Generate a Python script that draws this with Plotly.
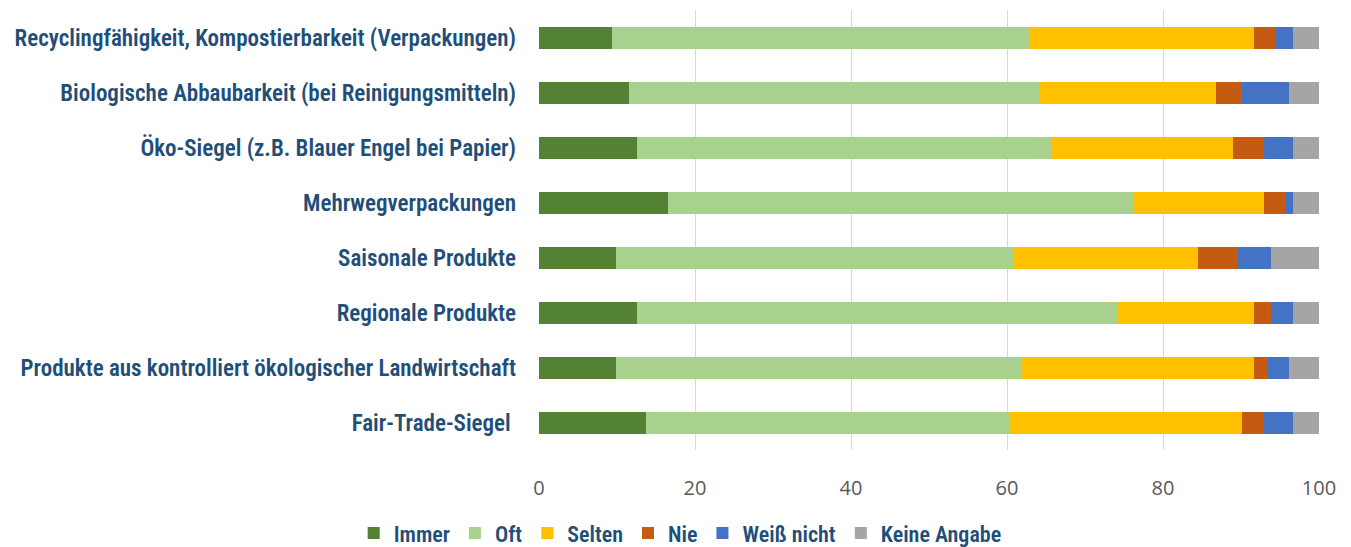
import plotly.graph_objects as go

# categories, bottom to top as drawn
categories = [
    'Fair-Trade-Siegel\u00a0',
    'Produkte aus kontrolliert ökologischer Landwirtschaft',
    'Regionale Produkte',
    'Saisonale Produkte',
    'Mehrwegverpackungen',
    'Öko-Siegel (z.B. Blauer Engel bei Papier)',
    'Biologische Abbaubarkeit (bei Reinigungsmitteln)',
    'Recyclingfähigkeit, Kompostierbarkeit (Verpackungen)',
]

immer = [13.7, 9.9, 12.6, 9.9, 16.5, 12.6, 11.5, 9.4]
oft = [46.5, 51.9, 61.5, 50.9, 59.8, 53.1, 52.6, 53.6]
selten = [29.9, 29.9, 17.6, 23.7, 16.6, 23.3, 22.7, 28.7]
nie = [2.8, 1.7, 2.2, 5.0, 2.7, 3.9, 3.3, 2.8]
weiss_nicht = [3.8, 2.7, 2.8, 4.4, 1.1, 3.8, 6.0, 2.2]
keine_angabe = [3.3, 3.9, 3.3, 6.1, 3.3, 3.3, 3.9, 3.3]

series = [
    ('Immer', immer, '#548235'),
    ('Oft', oft, '#A9D18E'),
    ('Selten', selten, '#FFC000'),
    ('Nie', nie, '#C55A11'),
    ('Weiß nicht', weiss_nicht, '#4472C4'),
    ('Keine Angabe', keine_angabe, '#A5A5A5'),
]

label_font = "Roboto Condensed, Liberation Sans Narrow, DejaVu Sans Condensed, sans-serif"
tick_font = "Open Sans, Noto Sans, sans-serif"
text_blue = '#1F4E79'

fig = go.Figure()
for name, vals, color in series:
    fig.add_trace(go.Bar(
        y=categories,
        x=vals,
        name=name,
        orientation='h',
        marker=dict(color=color, line=dict(width=0)),
    ))

fig.update_layout(
    barmode='stack',
    bargap=0.6,
    width=1351,
    height=547,
    margin=dict(l=531, r=40, t=2, b=105, autoexpand=False),
    plot_bgcolor='white',
    paper_bgcolor='white',
    font=dict(family=label_font, color=text_blue),
    legend=dict(
        orientation='h',
        x=0.181,
        xanchor='center',
        yref='container',
        y=0.040,
        yanchor='middle',
        font=dict(size=22, color=text_blue, weight=600),
        itemwidth=30,
        traceorder='normal',
    ),
    xaxis=dict(
        range=[0, 100],
        dtick=20,
        showgrid=True,
        gridcolor='#D9D9D9',
        gridwidth=1,
        zeroline=False,
        showline=False,
        ticks='',
        ticklabelstandoff=24,
        tickfont=dict(size=20, color='#595959', family=tick_font),
    ),
    yaxis=dict(
        showgrid=False,
        zeroline=False,
        showline=False,
        ticks='',
        ticklabelstandoff=22,
        tickfont=dict(size=23, color=text_blue, weight=600),
    ),
)

fig.write_html("out.html")
